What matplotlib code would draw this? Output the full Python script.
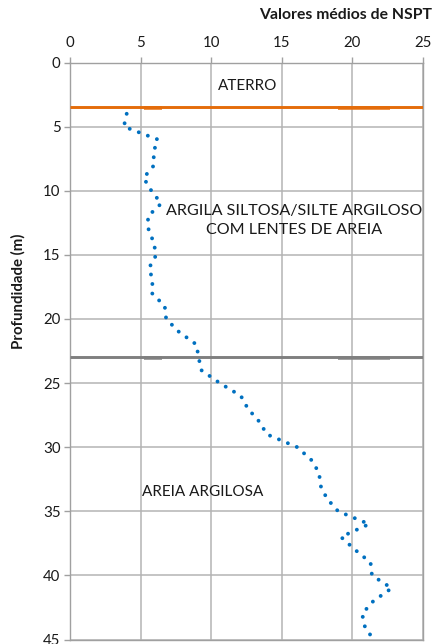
import matplotlib
matplotlib.use("Agg")
import matplotlib.pyplot as plt

plt.rcParams['font.family'] = ['Lato', 'DejaVu Sans']

# Average NSPT per metre of depth
depth = [4, 5, 6, 7, 8, 9, 10, 11, 12, 13, 14, 15, 16, 17, 18, 19, 20, 21, 22, 23, 24,
         25, 26, 27, 28, 29, 30, 31, 32, 33, 34, 35, 36, 37, 38, 39, 40, 41, 42, 43, 44, 45]
nspt = [4.0, 3.8, 6.2, 5.9, 5.95, 5.2, 5.75, 6.45, 5.5, 5.55, 5.9, 6.1, 5.6, 5.83, 5.8,
        6.7, 6.8, 7.7, 8.95, 9.1, 9.3, 10.6, 12.1, 12.6, 13.4, 13.95, 16.1, 17.1, 17.65,
        17.75, 18.2, 19.0, 21.2, 19.2, 20.2, 21.3, 21.4, 22.8, 21.5, 20.7, 20.9, 21.5]

# Layer boundaries (depth, m)
boundary_depths = [3.5, 23.0]
boundary_colors = ['#E46C0A', '#7F7F7F']
boundary_bumps = [(5.2, 6.5), (19.0, 22.7)]

layer_names = ['ATERRO', 'ARGILA SILTOSA/SILTE ARGILOSO\nCOM LENTES DE AREIA', 'AREIA ARGILOSA']
layer_label_x = [12.6, 15.9, 9.4]
layer_label_y = [1.8, 12.35, 33.5]
layer_label_size = [11, 11.6, 11]

x_ticks = [0, 5, 10, 15, 20, 25]
y_ticks = [0, 5, 10, 15, 20, 25, 30, 35, 40, 45]

W, H = 433, 644
fig = plt.figure(figsize=(W / 100, H / 100), dpi=100)
ax = fig.add_axes([70.3 / W, 1 - 639.5 / H, 352.4 / W, 577 / H])

ax.set_xlim(0, 25)
ax.set_ylim(45, 0)
ax.xaxis.tick_top()
ax.set_xticks(x_ticks)
ax.set_yticks(y_ticks)
ax.grid(True, color='#b4b4b4', lw=1.1)
ax.set_axisbelow(True)
for s in ax.spines.values():
    s.set_color('#a0a0a0')
    s.set_linewidth(1.0)
ax.tick_params(axis='both', colors='#a0a0a0', labelcolor='#1a1a1a', labelsize=10.8,
               length=4, width=1.0)
ax.tick_params(axis='x', pad=5)
ax.tick_params(axis='y', pad=3)

for d, c in zip(boundary_depths, boundary_colors):
    ax.plot([0, 25], [d, d], color=c, lw=2.1, solid_capstyle='butt', zorder=3)
    for x0, x1 in boundary_bumps:
        ax.plot([x0, x1], [d + 0.04, d + 0.04], color=c, lw=2.6,
                solid_capstyle='butt', alpha=0.9, zorder=3)

ax.plot(nspt, depth, color='#0070C0', lw=2.8, dashes=(0.01, 2.48),
        dash_capstyle='round', zorder=4, clip_on=True)

for name, lx, ly, fs in zip(layer_names, layer_label_x, layer_label_y, layer_label_size):
    ax.text(lx, ly, name, ha='center', va='center', fontsize=fs, color='#1a1a1a',
            linespacing=1.45, zorder=5)

fig.text(432 / W, 1 - 15 / H, 'Valores médios de NSPT', ha='right', va='center',
         fontsize=11.3, fontweight='bold', color='#1a1a1a')
fig.text(18 / W, 1 - 291 / H, 'Profundidade (m)', ha='center', va='center',
         rotation=90, fontsize=10.8, fontweight='bold', color='#1a1a1a')

fig.savefig('out.png', dpi=100)
